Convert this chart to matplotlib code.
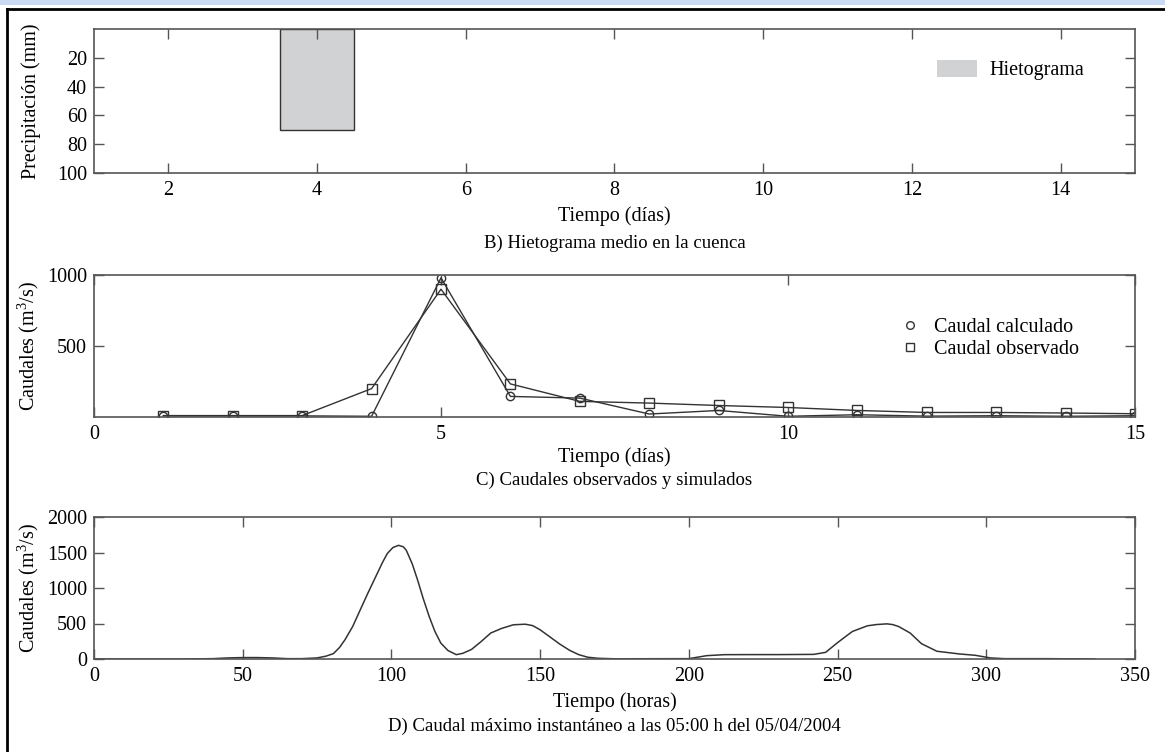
import matplotlib
matplotlib.use("Agg")
import matplotlib.pyplot as plt
from matplotlib.patches import Patch, Rectangle
from matplotlib.lines import Line2D

plt.rcParams['font.family'] = ['Liberation Serif', 'DejaVu Serif']
plt.rcParams['mathtext.fontset'] = 'custom'
plt.rcParams['mathtext.rm'] = 'Liberation Serif'

# ---------------- data ----------------
# B) hietograma
hieto_dias = [4]
hieto_mm = [70]

# C) caudales diarios
dias = [1, 2, 3, 4, 5, 6, 7, 8, 9, 10, 11, 12, 13, 14, 15]
caudal_calculado = [8, 8, 8, 5, 980, 145, 133, 21, 46, 5, 16, 6, 9, 5, 9]
caudal_observado = [10, 10, 10, 200, 900, 233, 110, 98, 81, 67, 46, 32, 32, 28, 23]

# D) caudal horario
horas = [0, 30, 40, 45, 50, 55, 60, 65, 70, 75, 78, 80.5, 82.5, 84.4, 87, 89.5, 92,
         94.7, 97, 98.6, 100.5, 102.4, 104, 105, 107, 108.8, 110.7, 112.7, 114.6,
         116.6, 119, 121.8, 124, 126.9, 130, 133.4, 137, 141, 145, 147.5, 150, 153,
         156.6, 160, 163, 166, 169.5, 175, 200, 206, 212, 220, 230, 242, 246, 249.8,
         252.5, 255, 260, 263, 266.6, 268.5, 270.5, 274.4, 278.2, 283.4, 291, 296.3,
         301.4, 306, 320, 336.5]
caudal_horario = [0, 0, 5, 15, 20, 20, 15, 5, 5, 15, 40, 76, 160, 272, 460, 691, 920,
                  1158, 1360, 1485, 1570, 1601, 1580, 1531, 1340, 1112, 850, 598, 390,
                  224, 120, 61, 80, 134, 240, 366, 430, 482, 490, 470, 411, 320,
                  210, 120, 61, 25, 10, 3, 5, 47, 61, 62, 62, 65, 94, 224,
                  310, 388, 467, 485, 495, 485, 458, 366, 216, 109, 71, 52,
                  15, 5, 5, 0]

# ---------------- figure ----------------
W, H = 1165, 752
fig = plt.figure(figsize=(W / 100, H / 100), dpi=100)

def ax_rect(left, top, right, bottom):
    return [left / W, 1 - bottom / H, (right - left) / W, (bottom - top) / H]

FS = 14.5
CAP = 13.5
LC = '#333333'
SPC = '#555555'
YLAB_X = (41 - 94) / 1041

def style(ax):
    for s in ax.spines.values():
        s.set_color(SPC)
        s.set_linewidth(1.2)
    ax.tick_params(direction='in', top=True, right=True, length=7, width=1,
                   color=SPC, labelsize=FS)
    ax.tick_params(axis='x', pad=6)
    ax.tick_params(axis='y', pad=5)

# B
ax1 = fig.add_axes(ax_rect(94, 29, 1135, 173))
ax1.bar(hieto_dias, hieto_mm, width=1, color='#d1d2d4', edgecolor=LC, linewidth=1)
ax1.set_xlim(1, 15)
ax1.set_ylim(100, 0)
ax1.set_xticks([2, 4, 6, 8, 10, 12, 14])
ax1.set_yticks([20, 40, 60, 80, 100])
style(ax1)
ax1.set_ylabel('Precipitación (mm)', fontsize=FS)
ax1.yaxis.set_label_coords(YLAB_X, 0.5)
ax1.legend(handles=[Patch(facecolor='#d1d2d4', edgecolor='none', label='Hietograma')],
           loc='center left', bbox_to_anchor=(937 / W, 1 - 70 / H),
           bbox_transform=fig.transFigure, frameon=False, fontsize=FS,
           borderpad=0, borderaxespad=0, handlelength=2.0, handleheight=0.9,
           handletextpad=0.6)

# C
ax2 = fig.add_axes(ax_rect(94, 275, 1135, 417))
ax2.plot(dias, caudal_calculado, color=LC, lw=1, marker='o', ms=6,
         mfc='none', mec=LC, mew=1, label='Caudal calculado')
ax2.plot(dias, caudal_observado, color=LC, lw=1, marker='s', ms=6.5,
         mfc='none', mec=LC, mew=1, label='Caudal observado')
ax2.set_xlim(0, 15)
ax2.set_ylim(0, 1000)
ax2.set_xticks([0, 5, 10, 15])
ax2.set_yticks([500, 1000])
style(ax2)
ax2.set_ylabel('Caudales (m$^3$/s)', fontsize=FS)
ax2.yaxis.set_label_coords(YLAB_X, 0.5)
h, l = ax2.get_legend_handles_labels()
hh = [Line2D([], [], ls='none', marker=x.get_marker(), ms=x.get_markersize() - 0.5,
             mfc='none', mec=LC, mew=1) for x in h]
ax2.legend(hh, l, loc='center left', bbox_to_anchor=(900 / W, 1 - 338.5 / H),
           bbox_transform=fig.transFigure, frameon=False, fontsize=FS,
           borderpad=0, borderaxespad=0, handlelength=1.0, handletextpad=0.7,
           labelspacing=0.12)

# D
ax3 = fig.add_axes(ax_rect(94, 517, 1135, 659))
ax3.plot(horas, caudal_horario, color=LC, lw=1.1)
ax3.set_xlim(0, 350)
ax3.set_ylim(0, 2000)
ax3.set_xticks([0, 50, 100, 150, 200, 250, 300, 350])
ax3.set_yticks([0, 500, 1000, 1500, 2000])
style(ax3)
ax3.set_ylabel('Caudales (m$^3$/s)', fontsize=FS)
ax3.yaxis.set_label_coords(YLAB_X, 0.5)

# x labels and captions
xc = (94 + 1135) / 2 / W
for ylab, ycap, lab, cap in [
        (221, 248, 'Tiempo (días)', 'B) Hietograma medio en la cuenca'),
        (462, 485, 'Tiempo (días)', 'C) Caudales observados y simulados'),
        (707, 731, 'Tiempo (horas)', 'D) Caudal máximo instantáneo a las 05:00 h del 05/04/2004')]:
    fig.text(xc, 1 - ylab / H, lab, ha='center', va='baseline', fontsize=FS)
    fig.text(xc, 1 - ycap / H, cap, ha='center', va='baseline', fontsize=CAP)

# frame (top and left edges) and top strip
fig.add_artist(Rectangle((0, 1 - 5 / H), 1, 5 / H, transform=fig.transFigure,
                         facecolor='#c9daf2', edgecolor='none'))
fig.add_artist(Line2D([7 / W, 1], [1 - 8.5 / H, 1 - 8.5 / H], transform=fig.transFigure,
                      color='black', lw=2))
fig.add_artist(Line2D([7 / W, 7 / W], [0, 1 - 8.5 / H], transform=fig.transFigure,
                      color='black', lw=2))

fig.savefig('out.png', dpi=100)
